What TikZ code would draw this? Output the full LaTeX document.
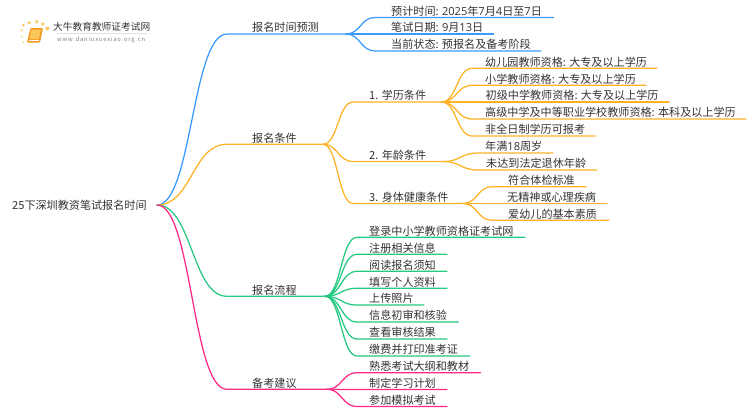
\documentclass[tikz,border=0pt]{standalone}
\usepackage{fontspec}
\setmainfont{Noto Sans CJK SC}
\newfontfamily\lat{Open Sans}
\usetikzlibrary{calc}
\definecolor{cblue}{HTML}{3A9BFF}
\definecolor{corange}{HTML}{FFB224}
\definecolor{cgreen}{HTML}{25C982}
\definecolor{cpink}{HTML}{FF2A85}
\definecolor{ctext}{HTML}{333333}
\definecolor{cdot}{HTML}{FBCB62}
\definecolor{cbook}{HTML}{F39A1E}
\definecolor{cbookl}{HTML}{FBC65A}
\tikzset{
  lab/.style={font=\fontsize{11.1}{13}\selectfont,text=ctext,inner sep=0pt,anchor=base west},
  conn/.style={line width=1.25pt,line cap=round},
}
% name, parent, colour, text x, line y, line start x, line end x, text
\newcommand\topic[8]{%
  \node[lab] (#1) at (#4,#5-2.1) {#8};
  \coordinate (#1-s) at (#6,#5);
  \coordinate (#1-e) at (#7,#5);
  \coordinate (#1-m) at ($(#2)!.5!(#1-s)$);
  \draw[conn,#3] (#2) .. controls (#1-m |- #2) and (#1-m |- #1-s) .. (#1-s) -- (#1-e);
}
\begin{document}
\begin{tikzpicture}[x=1pt,y=-1pt]
\useasboundingbox (0,0) rectangle (750,410);
\fill[white] (0,0) rectangle (750,410);
% logo
\foreach \px/\py/\r in {23.3/25/1.5,29.3/22.7/1.7,36.7/21.7/1.9,42.7/24/1.9,47.3/28.5/2,21.7/30/1.2,21.7/36.7/.9,23.3/42.3/.8}
  \fill[cdot] (\px,\py) circle (\r);
\fill[rounded corners=1pt,cbook] (30.5,28) -- (43,28) -- (40,42.5) -- (27,42.5) -- cycle;
\fill[cbookl] (31.5,29.5) -- (41,29.5) -- (38.8,39) -- (29.5,39) -- cycle;
\fill[white] (29,40) rectangle (38.6,41);
\node[inner sep=0pt,anchor=base west,font=\fontsize{9.7}{11}\selectfont,text=ctext] (logoa) at (53,30.5) {大牛教育教师证考试网};
\draw[black!12,line width=.5pt] (57,33.5) -- (147,33.5);
\node[inner sep=0pt,anchor=base west,font=\fontsize{5.8}{7}\selectfont,text=black!50] (logob) at (57,41) {\addfontfeature{LetterSpace=14}www.daniuxuexiao.org.cn};
% root
\node[lab] (root) at (12,209.3) {25下深圳教资笔试报名时间};
\coordinate (rootout) at (157,205);
% branch 1
\topic{bA}{rootout}{cblue}{252}{34}{227}{346}{报名时间预测}
\topic{bAa}{bA-e}{cblue}{391}{17.5}{375}{553.5}{预计时间: {\lat 2025}年{\lat 7}月{\lat 4}日至{\lat 7}日}
\topic{bAb}{bA-e}{cblue}{391}{34}{375}{493.5}{笔试日期: {\lat 9}月{\lat 13}日}
\topic{bAc}{bA-e}{cblue}{391}{51}{375}{541}{当前状态: 预报名及备考阶段}
% branch 2
\topic{bB}{rootout}{corange}{252}{144.3}{227}{323}{报名条件}
\topic{bBa}{bB-e}{corange}{369}{102}{353}{441.5}{1. 学历条件}
\topic{bBb}{bB-e}{corange}{369}{161.5}{353}{443}{2. 年龄条件}
\topic{bBc}{bB-e}{corange}{369}{203.5}{353}{463}{3. 身体健康条件}
\topic{lA}{bBa-e}{corange}{485}{68.3}{472}{657}{幼儿园教师资格: 大专及以上学历}
\topic{lB}{bBa-e}{corange}{485}{85.3}{472}{646}{小学教师资格: 大专及以上学历}
\topic{lC}{bBa-e}{corange}{485.5}{102}{472}{669}{初级中学教师资格: 大专及以上学历}
\topic{lD}{bBa-e}{corange}{485}{119}{472}{746}{高级中学及中等职业学校教师资格: 本科及以上学历}
\topic{lE}{bBa-e}{corange}{485}{136}{472}{595}{非全日制学历可报考}
\topic{lF}{bBb-e}{corange}{485}{153}{478}{553}{年满{\lat 18}周岁}
\topic{lG}{bBb-e}{corange}{486}{170}{478}{597}{未达到法定退休年龄}
\topic{lH}{bBc-e}{corange}{508}{186.7}{492}{586}{符合体检标准}
\topic{lI}{bBc-e}{corange}{507}{203.5}{492}{607}{无精神或心理疾病}
\topic{lJ}{bBc-e}{corange}{508}{220.3}{492}{609}{爱幼儿的基本素质}
% branch 3
\topic{bC}{rootout}{cgreen}{252}{296.3}{227}{325}{报名流程}
\topic{gA}{bC-e}{cgreen}{369}{237.3}{357}{525}{登录中小学教师资格证考试网}
\topic{gB}{bC-e}{cgreen}{369}{254.3}{357}{447}{注册相关信息}
\topic{gC}{bC-e}{cgreen}{369}{271.3}{357}{447}{阅读报名须知}
\topic{gD}{bC-e}{cgreen}{369}{288.2}{357}{447}{填写个人资料}
\topic{gE}{bC-e}{cgreen}{369}{305}{357}{424}{上传照片}
\topic{gF}{bC-e}{cgreen}{369}{322}{357}{458.5}{信息初审和核验}
\topic{gG}{bC-e}{cgreen}{369}{339}{357}{447}{查看审核结果}
\topic{gH}{bC-e}{cgreen}{369}{356}{357}{470}{缴费并打印准考证}
% branch 4
\topic{bD}{rootout}{cpink}{252}{389.3}{227}{327}{备考建议}
\topic{pA}{bD-e}{cpink}{369}{372.7}{357}{480.5}{熟悉考试大纲和教材}
\topic{pB}{bD-e}{cpink}{369}{389.5}{357}{447}{制定学习计划}
\topic{pC}{bD-e}{cpink}{369}{406.5}{357}{447}{参加模拟考试}
\end{tikzpicture}
\end{document}
